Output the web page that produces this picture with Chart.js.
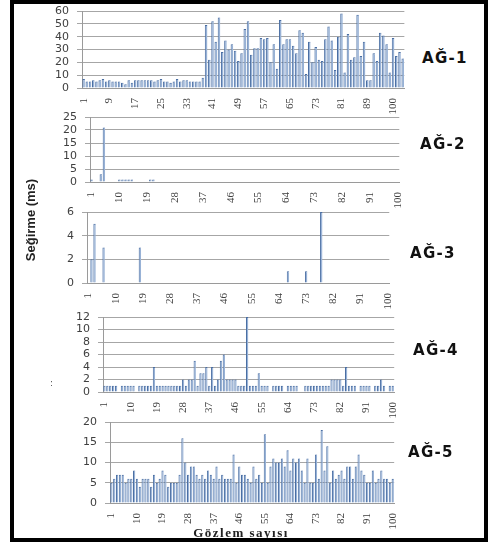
<!DOCTYPE html>
<html><head><meta charset="utf-8">
<script src="https://cdn.jsdelivr.net/npm/chart.js@4"></script>
<style>
html,body{margin:0;padding:0;background:#fff;}
#wrap{position:relative;width:493px;height:543px;overflow:hidden;background:#fff;}
#frame{position:absolute;left:10px;top:0;width:470px;height:534px;border:4px solid #000;z-index:5;pointer-events:none;}
canvas{position:absolute;}
.lab{position:absolute;font-family:"DejaVu Sans",sans-serif;font-weight:bold;font-size:15px;letter-spacing:1.3px;color:#111;white-space:nowrap;transform:translateY(-50%);}
#ytitle{position:absolute;left:30px;top:220px;font-family:"Liberation Sans",Arial,sans-serif;font-weight:bold;font-size:13px;color:#222;white-space:nowrap;transform:translate(-50%,-50%) rotate(-90deg);}
#xtitle{position:absolute;left:241px;top:533px;font-family:"Liberation Serif",serif;font-weight:bold;font-size:13px;letter-spacing:1.5px;color:#222;white-space:nowrap;transform:translate(-50%,-50%);}
#dots{position:absolute;left:50px;top:378px;font-family:"DejaVu Sans",sans-serif;font-size:9px;color:#555;}
</style></head><body>
<div id="wrap">
<div id="frame"></div>
<canvas id="c1"></canvas><canvas id="c2"></canvas><canvas id="c3"></canvas><canvas id="c4"></canvas><canvas id="c5"></canvas>
<div class="lab" style="left:422px;top:58px">AĞ-1</div>
<div class="lab" style="left:420px;top:144px">AĞ-2</div>
<div class="lab" style="left:410px;top:253px">AĞ-3</div>
<div class="lab" style="left:413px;top:350px">AĞ-4</div>
<div class="lab" style="left:408px;top:452px">AĞ-5</div>
<div id="ytitle">Seğirme (ms)</div>
<div id="xtitle">Gözlem sayısı</div>
<div id="dots">:</div>
</div>
<script>
// Observation numbers (categories)
const categories = Array.from({length:100}, (_, i) => String(i + 1));

// Tick labels shown on each x axis
const ticksAG1 = ['1','9','17','25','33','41','49','57','65','73','81','89','100'];
const ticksAG1Step = 8;
const ticksOther = ['1','10','19','28','37','46','55','64','73','82','91','100'];
const ticksOtherStep = 9;

// Series values (ms)
const ag1 = [7,5,5,6,5,6,7,5,6,5,5,5,4,3,6,4,6,6,6,6,6,6,5,6,7,5,5,4,5,7,5,6,6,5,5,5,5,8,
  49,22,52,36,55,28,37,30,34,29,21,27,46,52,26,31,31,39,38,39,20,34,15,53,34,38,38,33,27,45,43,11,36,20,32,22,21,38,48,37,14,40,58,12,42,22,24,57,25,36,6,6,27,21,43,41,34,12,39,25,28,23];
const ag2 = [1,0,0,3,21,0,0,0,0,1,1,1,1,1,0,0,0,0,0,1,1,0,0,0,0,0,0,0,0,0,
  0,0,0,0,0,0,0,0,0,0,0,0,0,0,0,0,0,0,0,0,0,0,0,0,0,0,0,0,0,0,
  0,0,0,0,0,0,0,0,0,0,0,0,0,0,0,0,0,0,0,0,0,0,0,0,0,0,0,0,0,0,
  0,0,0,0,0,0,0,0,0,0];
const ag3 = [0,2,5,0,0,3,0,0,0,0,0,0,0,0,0,0,0,3,0,0,0,0,0,0,0,0,0,0,0,0,
  0,0,0,0,0,0,0,0,0,0,0,0,0,0,0,0,0,0,0,0,0,0,0,0,0,0,0,0,0,0,
  0,0,0,0,0,0,1,0,0,0,0,0,1,0,0,0,0,6,0,0,0,0,0,0,0,0,0,0,0,0,
  0,0,0,0,0,0,0,0,0,0];
const ag4 = [1,1,1,1,1,0,1,1,1,1,1,0,1,1,1,1,1,4,1,1,1,1,1,1,1,1,1,2,1,2,
  2,5,1,3,3,4,1,4,1,2,5,6,2,2,2,2,1,1,1,12,
  1,1,1,3,1,1,1,0,1,1,1,1,0,1,1,1,1,0,0,1,1,1,1,1,1,1,1,1,2,2,
  2,2,1,4,1,1,1,0,1,1,1,1,0,1,1,2,1,0,1,1];
const ag5 = [5,6,7,7,7,5,6,6,8,6,4,6,6,6,4,7,5,6,8,7,4,5,5,5,7,16,
  10,7,9,9,7,6,7,6,8,7,6,9,6,7,6,6,6,12,
  5,9,7,7,6,5,9,6,7,5,17,
  5,9,11,10,10,11,9,13,8,11,10,11,8,5,11,5,5,12,6,18,
  8,14,5,8,6,7,8,6,9,9,6,9,12,8,7,5,5,8,5,6,8,6,6,5,6];

// Panel geometry: canvas left & width, y-axis width, plot top/bottom, x-axis height
const PADTOP = 16, EXTRA = 12;
const panels = [
  {id:'c1', data:ag1, max:60, step:10, ticks:ticksAG1, every:ticksAG1Step, L:40, W:378, yw:42, top:11,  bottom:88,  xh:22},
  {id:'c2', data:ag2, max:25, step:5,  ticks:ticksOther, every:ticksOtherStep, L:45, W:368, yw:45, top:117, bottom:182, xh:22},
  {id:'c3', data:ag3, max:6,  step:2,  ticks:ticksOther, every:ticksOtherStep, L:45, W:358, yw:42, top:212, bottom:283, xh:22},
  {id:'c4', data:ag4, max:12, step:2,  ticks:ticksOther, every:ticksOtherStep, L:55, W:353, yw:48, top:317, bottom:392, xh:22},
  {id:'c5', data:ag5, max:20, step:5,  ticks:ticksOther, every:ticksOtherStep, L:60, W:348, yw:50, top:422, bottom:503, xh:24}
];

panels.forEach(p => {
  const cv = document.getElementById(p.id);
  const T = p.top - PADTOP;
  const H = p.bottom - T + p.xh + EXTRA;
  cv.style.left = p.L + 'px';
  cv.style.top = T + 'px';
  cv.width = p.W; cv.height = H;
  new Chart(cv, {
    type: 'bar',
    data: {
      labels: categories,
      datasets: [{
        data: p.data,
        backgroundColor: '#98b2d6',
        borderColor: '#4a6ea3',
        borderWidth: {left:1, right:0, top:1, bottom:0},
        borderSkipped: false,
        barPercentage: 0.8,
        categoryPercentage: 1.0
      }]
    },
    options: {
      responsive: false,
      animation: false,
      devicePixelRatio: 1,
      layout: {padding: {top: PADTOP, right: 8, left: 0, bottom: 0}},
      plugins: {legend: {display: false}, tooltip: {enabled: false}},
      scales: {
        x: {
          grid: {display: false},
          border: {display: true, color: '#9a9a9a'},
          ticks: {
            autoSkip: false, maxRotation: 90, minRotation: 90, padding: 2,
            font: {family: 'Liberation Serif', size: 11}, color: '#404040',
            callback: (v, i) => (i % p.every === 0 && p.ticks[i / p.every] !== undefined) ? p.ticks[i / p.every] : ''
          },
          afterFit: s => { s.height = p.xh + EXTRA; }
        },
        y: {
          min: 0, max: p.max,
          grid: {color: '#a6a6a6', lineWidth: 1, tickLength: 5},
          border: {display: true, color: '#9a9a9a'},
          ticks: {stepSize: p.step, autoSkip: false, padding: 8, font: {family: 'DejaVu Sans', size: 11}, color: '#404040'},
          afterFit: s => { s.width = p.yw; }
        }
      }
    }
  });
});
</script>
</body></html>
